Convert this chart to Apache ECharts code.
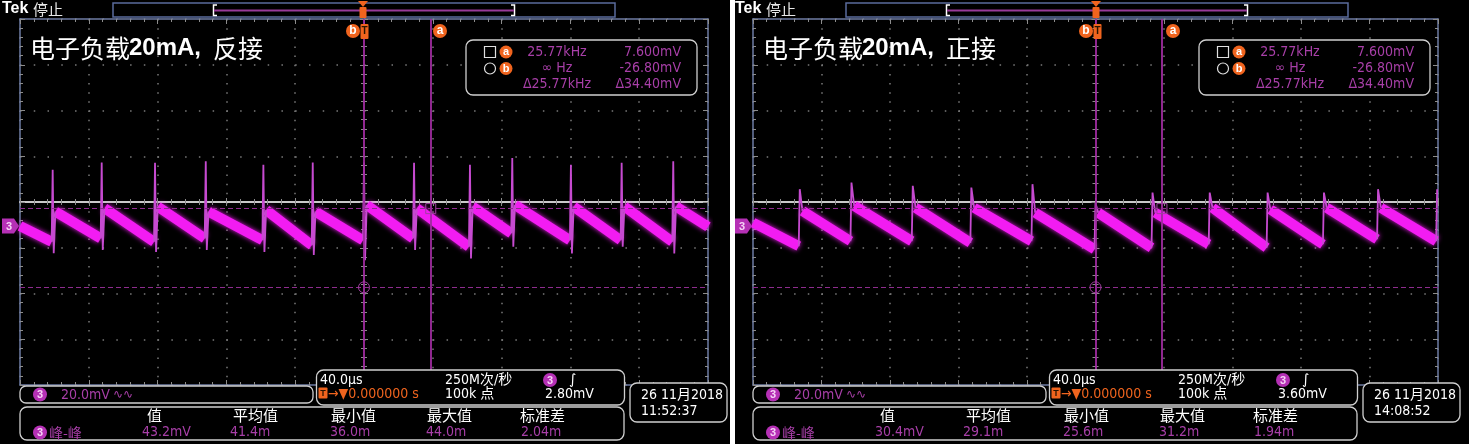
<!DOCTYPE html>
<html><head><meta charset="utf-8">
<script src="https://cdn.jsdelivr.net/npm/echarts@6/dist/echarts.min.js"></script>
<style>html,body{margin:0;padding:0;background:#fff;}#c{width:1469px;height:444px;}</style>
</head><body><div id="c"></div><script>
// ---------------- data ----------------
const TIME_RANGE_US = [-200, 200];   // 40 us/div, 10 div
const TIME_DIV_US = 40;
const DIV_RANGE = [-4, 4];           // 8 vertical divisions
const CH3_RANGE_MV = [-69.5, 90.5];  // 20 mV/div, channel offset 0.525 div below centre

// left screen (反接): spikes
const L_SPIKE_T   = [-181.0, -152.5, -121.5, -92.0, -58.5, -29.8, 0, 29.1, 61.6, 86.2, 120.3, 149.8, 179.8];
const L_PEAK      = [24.6, 27.8, 27.7, 28.3, 26.8, 27.8, 27.8, 27.6, 26.8, 29.7, 26.8, 27.6, 28.3];
const L_TROUGH    = [-11.9, -10.5, -11.3, -10.5, -11.3, -12.7, -15.0, -10.5, -14.2, -9.1, -12.0, -9.1, -12.0];
const L_BAND_START= [6.3, 7.8, 8.5, 6.3, 7.0, 6.3, 9.2, 7.8, 8.5, 9.2, 8.5, 8.5, 8.5];
const L_BAND_END  = [-6.9, -5.4, -6.9, -5.4, -6.2, -8.4, -6.2, -5.4, -9.1, -3.2, -6.2, -6.2, -6.9];
const L_EDGE      = [0.0, -0.3];

// right screen (正接)
const R_SPIKE_T   = [-172.7, -142.5, -106.7, -72.5, -36.8, 0, 33.3, 66.7, 100.5, 133.4, 165.0, 199.5];
const R_PEAK      = [16.1, 19.0, 17.6, 16.8, 18.3, 10.0, 14.6, 14.6, 14.6, 14.6, 16.1, 16.1];
const R_TROUGH    = [null, null, null, null, null, null, null, null, null, null, null, null];
const R_BAND_START= [6.6, 8.8, 8.0, 8.0, 5.8, 5.8, 5.8, 8.0, 7.3, 8.0, 8.0, null];
const R_BAND_END  = [-8.8, -6.6, -6.6, -7.3, -6.6, -10.2, -9.5, -8.0, -9.5, -8.0, -5.8, -6.6];
const R_EDGE      = [1.5, null];

// cursors
const CURSOR_T_US = [0, 38.8];
const CURSOR_MV   = [7.6, -26.8];

// texts
const TITLES = ['反接', '正接'];
const CURSOR_READOUT = [['25.77kHz', '7.600mV'], ['∞ Hz', '-26.80mV'], ['Δ25.77kHz', 'Δ34.40mV']];
const MEAS_HEAD = ['值', '平均值', '最小值', '最大值', '标准差'];
const MEAS_VALUES = [['43.2mV', '41.4m', '36.0m', '44.0m', '2.04m'], ['30.4mV', '29.1m', '25.6m', '31.2m', '1.94m']];
const TRIG_LEVEL = ['2.80mV', '3.60mV'];
const DATES = [['26 11月2018', '11:52:37'], ['26 11月2018', '14:08:52']];
const CH_SCALE = '20.0mV';
const TIMEBASE = '40.0μs', SAMPLE_RATE = '250M次/秒', REC_LEN = '100k 点', TRIG_POS = '→▼0.000000 s';

// ---------------- style ----------------
const LEAD = 0.6, TAIL = 1.6;
const GRIDS = [{left: 20, top: 19, width: 688, height: 366}, {left: 753, top: 19, width: 685, height: 366}];
const DX = [0, 733];
const BG = [[0, 730], [735, 1469]];
const BORDER = '#6d7ba3', DOT = '#7a7a7a', TICK = '#8c8c8c';
const PURPLE = '#a83fa8', ORANGE = '#f0641e', CHP = '#b530b5';
const NARROW = '"Liberation Sans Narrow","Arial Narrow","DejaVu Sans Condensed","Noto Sans CJK SC",sans-serif';
const CJK = '"Noto Sans CJK SC",sans-serif';

function bandData(t, start, end, edge) {
  const d = [[TIME_RANGE_US[0], edge[0]]];
  for (let i = 0; i < t.length; i++) {
    d.push([t[i] - LEAD, end[i]]);
    d.push([t[i], null]);
    if (start[i] != null) d.push([t[i] + TAIL, start[i]]);
  }
  if (edge[1] != null) d.push([TIME_RANGE_US[1], edge[1]]);
  return d;
}
function spikeData(t, peak, trough, start, end) {
  const d = [];
  for (let i = 0; i < t.length; i++) {
    d.push([t[i] - LEAD, end[i]]);
    d.push([t[i], peak[i]]);
    if (trough[i] != null) d.push([t[i] + LEAD, trough[i]]);
    if (start[i] != null) d.push([t[i] + TAIL, start[i]]);
    d.push([t[i] + TAIL + 0.1, null]);
  }
  return d;
}

const xAxes = [], yAxes = [], series = [];
const PANELS = [
  {t: L_SPIKE_T, peak: L_PEAK, trough: L_TROUGH, start: L_BAND_START, end: L_BAND_END, edge: L_EDGE},
  {t: R_SPIKE_T, peak: R_PEAK, trough: R_TROUGH, start: R_BAND_START, end: R_BAND_END, edge: R_EDGE}
];

PANELS.forEach((p, g) => {
  const xb = g * 4, yb = g * 5;
  const px = GRIDS[g].width / 50, py = GRIDS[g].height / 40;
  const base = {type: 'value', gridIndex: g, axisLabel: {show: false}, splitLine: {show: false}};
  const tx = Object.assign({}, base, {min: TIME_RANGE_US[0], max: TIME_RANGE_US[1], interval: TIME_DIV_US});
  const dy = Object.assign({}, base, {min: DIV_RANGE[0], max: DIV_RANGE[1], interval: 1});
  const tick = (inside, len) => ({show: true, inside: inside, length: len, lineStyle: {color: TICK, width: 1}});
  const minor = (len) => ({show: true, splitNumber: 5, length: len, lineStyle: {color: TICK, width: 1}});
  // x axes
  xAxes.push(Object.assign({}, tx, {position: 'bottom', axisLine: {onZero: false, lineStyle: {color: BORDER, width: 1.5}},
    axisTick: tick(true, 5), minorTick: minor(3),
    splitLine: {show: true, lineStyle: {color: DOT, width: 1.5, type: [1.5, py - 1.5]}}}));
  xAxes.push(Object.assign({}, tx, {position: 'top', axisLine: {onZero: false, lineStyle: {color: BORDER, width: 1.5}},
    axisTick: tick(true, 5), minorTick: minor(3)}));
  xAxes.push(Object.assign({}, tx, {position: 'bottom', axisLine: {onZero: true, onZeroAxisIndex: yb, lineStyle: {color: '#d6d6d6', width: 1.6}},
    axisTick: tick(false, 4), minorTick: minor(3)}));
  xAxes.push(Object.assign({}, tx, {position: 'bottom', axisLine: {onZero: true, onZeroAxisIndex: yb, lineStyle: {color: '#d6d6d6', width: 1.6}},
    axisTick: tick(true, 4), minorTick: minor(3)}));
  // y axes
  yAxes.push(Object.assign({}, dy, {position: 'left', axisLine: {onZero: false, lineStyle: {color: BORDER, width: 1.5}},
    axisTick: tick(true, 5), minorTick: minor(3),
    splitLine: {show: true, lineStyle: {color: DOT, width: 1.5, type: [1.5, px - 1.5]}}}));
  yAxes.push(Object.assign({}, dy, {position: 'right', axisLine: {onZero: false, lineStyle: {color: BORDER, width: 1.5}},
    axisTick: tick(true, 5), minorTick: minor(3)}));
  yAxes.push(Object.assign({}, dy, {position: 'left', axisLine: {onZero: true, onZeroAxisIndex: xb, show: false},
    axisTick: tick(false, 4), minorTick: minor(3)}));
  yAxes.push(Object.assign({}, dy, {position: 'left', axisLine: {onZero: true, onZeroAxisIndex: xb, show: false},
    axisTick: tick(true, 4), minorTick: minor(3)}));
  yAxes.push({type: 'value', gridIndex: g, show: false, min: CH3_RANGE_MV[0], max: CH3_RANGE_MV[1]});

  series.push({
    type: 'line', xAxisIndex: xb, yAxisIndex: yb + 4, data: bandData(p.t, p.start, p.end, p.edge),
    symbol: 'none', connectNulls: false, z: 3, silent: true,
    lineStyle: {color: '#f21cf2', width: 10, cap: 'butt', join: 'round', shadowBlur: 5, shadowColor: 'rgba(255,30,255,0.9)'},
    markLine: {
      silent: true, symbol: ['none', 'none'], label: {show: false}, animation: false,
      data: [
        {xAxis: CURSOR_T_US[0], lineStyle: {color: '#a02ca0', width: 1.8, type: 'solid', shadowBlur: 0}},
        {xAxis: CURSOR_T_US[1], lineStyle: {color: '#a02ca0', width: 1.8, type: 'solid', shadowBlur: 0}},
        {yAxis: CURSOR_MV[0], lineStyle: {color: '#8e2c8e', width: 1.2, type: [5, 3], shadowBlur: 0}},
        {yAxis: CURSOR_MV[1], lineStyle: {color: '#8e2c8e', width: 1.2, type: [5, 3], shadowBlur: 0}}
      ]
    },
    markPoint: {
      silent: true, label: {show: false}, animation: false,
      data: [
        {coord: [CURSOR_T_US[0], CURSOR_MV[1]], symbol: 'circle', symbolSize: 11, itemStyle: {color: 'rgba(0,0,0,0)', borderColor: '#a040a0', borderWidth: 1}},
        {coord: [CURSOR_T_US[1], CURSOR_MV[0]], symbol: 'rect', symbolSize: 10, itemStyle: {color: 'rgba(0,0,0,0)', borderColor: '#a040a0', borderWidth: 1}}
      ]
    }
  });
  series.push({
    type: 'line', xAxisIndex: xb, yAxisIndex: yb + 4, data: spikeData(p.t, p.peak, p.trough, p.start, p.end),
    symbol: 'none', connectNulls: false, z: 4, silent: true,
    lineStyle: {color: '#c64ad0', width: 1.8}
  });
});

// ---------------- screen furniture (graphic) ----------------
const graphics = [];
function T(x, y, text, fill, size, extra) {
  graphics.push({type: 'text', z: 60, silent: true, style: Object.assign({x: x, y: y, text: text, fill: fill, fontSize: size,
    fontFamily: NARROW, textAlign: 'left', textVerticalAlign: 'middle'}, extra || {})});
}
function R(x, y, w, h, r, stroke, fill, z, lw) {
  graphics.push({type: 'rect', z: z == null ? 55 : z, silent: true, shape: {x: x, y: y, width: w, height: h, r: r || 0},
    style: {stroke: stroke || null, fill: fill || null, lineWidth: lw || 1.2}});
}
function C(cx, cy, r, fill, stroke) {
  graphics.push({type: 'circle', z: 58, silent: true, shape: {cx: cx, cy: cy, r: r}, style: {fill: fill || null, stroke: stroke || null, lineWidth: 1.2}});
}
function L(points, stroke, w, z) {
  graphics.push({type: 'polyline', z: z == null ? 58 : z, silent: true, shape: {points: points}, style: {stroke: stroke, lineWidth: w, fill: null}});
}

BG.forEach(b => R(b[0], 0, b[1] - b[0], 444, 0, null, '#000', -10));

[0, 1].forEach(g => {
  const d = DX[g];
  // header
  T(d + 2, 9, 'Tek', '#fff', 16, {fontFamily: '"Liberation Sans",sans-serif', fontWeight: 'bold'});
  T(d + 33, 9, '停止', '#e8e8e8', 15, {fontFamily: CJK});
  R(d + 113, 3, 502, 14, 0, '#5a6b9c', '#000', 55, 1.5);
  L([[d + 217, 5], [d + 213.5, 5], [d + 213.5, 15.5], [d + 217, 15.5]], '#fff', 1.5);
  L([[d + 511, 5], [d + 514.5, 5], [d + 514.5, 15.5], [d + 511, 15.5]], '#fff', 1.5);
  L([[d + 214, 10.5], [d + 514, 10.5]], '#9a3a9a', 2);
  graphics.push({type: 'polygon', z: 59, silent: true, shape: {points: [[d + 358, 1], [d + 368, 1], [d + 363, 7]]}, style: {fill: ORANGE}});
  R(d + 359.5, 7, 7, 11, 1, null, ORANGE, 59);
  // cursor / trigger markers
  C(d + 353, 31, 7, ORANGE);
  T(d + 353, 31, 'b', '#fff', 12, {textAlign: 'center', fontWeight: 'bold', fontFamily: '"Liberation Sans",sans-serif'});
  R(d + 360.5, 24, 8, 15, 1, null, ORANGE, 58);
  T(d + 364.5, 31, 'T', '#2a1400', 10, {textAlign: 'center', fontWeight: 'bold', fontFamily: '"Liberation Sans",sans-serif'});
  C(d + 440, 31, 7, ORANGE);
  T(d + 440, 31, 'a', '#fff', 12, {textAlign: 'center', fontWeight: 'bold', fontFamily: '"Liberation Sans",sans-serif'});
  // title
  T(d + 30, 48, '电子负载', '#fff', 25, {fontFamily: CJK});
  T(d + 129, 48, '20mA,', '#fff', 24, {fontFamily: '"Liberation Sans",sans-serif', fontWeight: 'bold'});
  T(d + 213, 48, TITLES[g], '#fff', 25, {fontFamily: CJK});
  // cursor readout box
  R(d + 466, 40, 231, 55, 7, '#cfcfcf', '#000', 55, 1.3);
  R(d + 484.5, 46.5, 11, 11, 0, '#e0e0e0', null, 58, 1.2);
  C(d + 506, 52, 6.5, ORANGE);
  T(d + 506, 52, 'a', '#fff', 11, {textAlign: 'center', fontWeight: 'bold', fontFamily: '"Liberation Sans",sans-serif'});
  C(d + 490, 68.5, 5.5, null, '#e0e0e0');
  C(d + 506, 68.5, 6.5, ORANGE);
  T(d + 506, 68.5, 'b', '#fff', 11, {textAlign: 'center', fontWeight: 'bold', fontFamily: '"Liberation Sans",sans-serif'});
  const ry = [52, 68.5, 84.5];
  CURSOR_READOUT.forEach((row, i) => {
    T(d + 557, ry[i], row[0], PURPLE, 14, {textAlign: 'center'});
    T(d + 681, ry[i], row[1], PURPLE, 14, {textAlign: 'right'});
  });
  // channel 3 marker on left edge
  graphics.push({type: 'polygon', z: 58, silent: true, shape: {points: [[d + 2, 218.5], [d + 14, 218.5], [d + 19, 226], [d + 14, 233.5], [d + 2, 233.5]]}, style: {fill: CHP}});
  T(d + 9, 226.5, '3', '#f6d2f6', 11, {textAlign: 'center', fontWeight: 'bold', fontFamily: '"Liberation Sans",sans-serif'});
  // channel box
  R(d + 20, 386, 293, 17, 6, '#cfcfcf', '#000', 55, 1.3);
  C(d + 40, 394.5, 7, CHP);
  T(d + 40, 395, '3', '#f6d2f6', 11, {textAlign: 'center', fontWeight: 'bold', fontFamily: '"Liberation Sans",sans-serif'});
  T(d + 61, 395, CH_SCALE, PURPLE, 14);
  T(d + 113, 395, '∿∿', PURPLE, 12, {fontFamily: '"DejaVu Sans",sans-serif'});
  // timebase box
  R(d + 316.5, 370, 308, 35, 7, '#cfcfcf', '#000', 55, 1.3);
  T(d + 320, 380, TIMEBASE, '#fff', 14);
  T(d + 445, 380, SAMPLE_RATE, '#fff', 14);
  C(d + 550, 380, 7, CHP);
  T(d + 550, 380.5, '3', '#f6d2f6', 11, {textAlign: 'center', fontWeight: 'bold', fontFamily: '"Liberation Sans",sans-serif'});
  T(d + 569, 380, '∫', '#fff', 14, {fontFamily: '"DejaVu Sans",sans-serif'});
  R(d + 318.5, 387.5, 9, 11, 1, null, ORANGE, 58);
  T(d + 323, 393.5, 'T', '#2a1400', 9, {textAlign: 'center', fontWeight: 'bold', fontFamily: '"Liberation Sans",sans-serif'});
  T(d + 328, 394, TRIG_POS, ORANGE, 14);
  T(d + 445, 394, REC_LEN, '#fff', 14);
  T(d + 545, 394, TRIG_LEVEL[g], '#fff', 14);
  // measurement box
  R(d + 20, 407, 604, 33, 7, '#cfcfcf', '#000', 55, 1.3);
  const hx = [147, 233, 331, 427, 520], vx = [142, 230, 330, 426, 521];
  MEAS_HEAD.forEach((h, i) => T(d + hx[i], 415, h, '#fff', 15, {fontFamily: CJK}));
  MEAS_VALUES[g].forEach((v, i) => T(d + vx[i], 432.5, v, PURPLE, 14));
  C(d + 40, 432.5, 7, CHP);
  T(d + 40, 433, '3', '#f6d2f6', 11, {textAlign: 'center', fontWeight: 'bold', fontFamily: '"Liberation Sans",sans-serif'});
  T(d + 49, 432.5, '峰-峰', PURPLE, 14, {fontFamily: CJK});
  // date box
  R(d + 630, 383, 97, 39, 7, '#cfcfcf', '#000', 55, 1.3);
  T(d + 641, 395, DATES[g][0], '#fff', 14);
  T(d + 641, 411, DATES[g][1], '#fff', 14);
});

const chart = echarts.init(document.getElementById('c'), null, {renderer: 'canvas'});
chart.setOption({
  animation: false,
  backgroundColor: '#fff',
  grid: GRIDS.map(g => Object.assign({outerBoundsMode: 'none', containLabel: false}, g)),
  xAxis: xAxes,
  yAxis: yAxes,
  series: series,
  graphic: {elements: graphics}
});
</script></body></html>
